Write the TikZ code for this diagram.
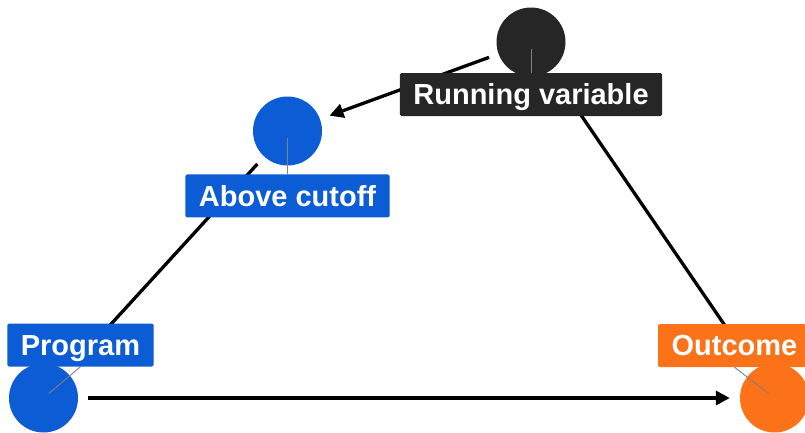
\documentclass[tikz,border=0pt]{standalone}
\usepackage{fontspec}
\setmainfont{Liberation Sans}
\usetikzlibrary{positioning,arrows.meta}
\definecolor{dagdark}{HTML}{262626}
\definecolor{dagblue}{HTML}{0B5CD5}
\definecolor{dagorange}{HTML}{FB7219}
\tikzstyle{dot}=[circle,inner sep=0pt,minimum size=69pt]
\tikzstyle{tag}=[rectangle,rounded corners=1.5pt,text=white,inner xsep=13.5pt,inner ysep=0pt,text height=20.5pt,text depth=0pt,minimum height=43pt,font=\bfseries\fontsize{29}{30}\selectfont]
\tikzstyle{link}=[line width=3.3pt,shorten <=10pt,shorten >=10pt]
\tikzstyle{lead}=[gray,line width=0.9pt,shorten <=7pt]
\pgfdeclarelayer{back}
\pgfdeclarelayer{mid}
\pgfsetlayers{back,mid,main}

\begin{document}
\begin{tikzpicture}[x=1pt,y=-1pt,>={Triangle[length=14pt,width=14pt]}]
\useasboundingbox (0,0) rectangle (805,432);

% points
\begin{pgfonlayer}{back}
\node [dot, fill=dagdark] (run) at (531,42) {};
\node [dot, fill=dagblue] (cut) at (287.5,131) {};
\node [dot, fill=dagblue] (prog) at (43.5,398) {};
\node [dot, fill=dagorange] (out) at (774.5,398) {};
\end{pgfonlayer}

% labels
\node [tag, fill=dagdark] (runl) at (531,94.5) {Running variable};
\node [tag, fill=dagblue, below=8.5pt of cut] (cutl) {Above cutoff};
\node [tag, fill=dagblue] (progl) at (80.5,345) {Program};
\node [tag, fill=dagorange] (outl) at (734.5,345.5) {Outcome};

% edges
\begin{pgfonlayer}{mid}
\draw [link, ->] (run) -- (cut);
\draw [link, ->] (cut) -- (prog);
\draw [link, ->] (run) -- (out);
\draw [link, ->] (prog) -- (out);
\draw [lead] (run.center) -- (runl.north);
\draw [lead] (cut.center) -- (cutl.north);
\draw [lead] (prog.center) -- (progl.south);
\draw [lead] (out.center) -- (outl.south);
\end{pgfonlayer}

\end{tikzpicture}
\end{document}
